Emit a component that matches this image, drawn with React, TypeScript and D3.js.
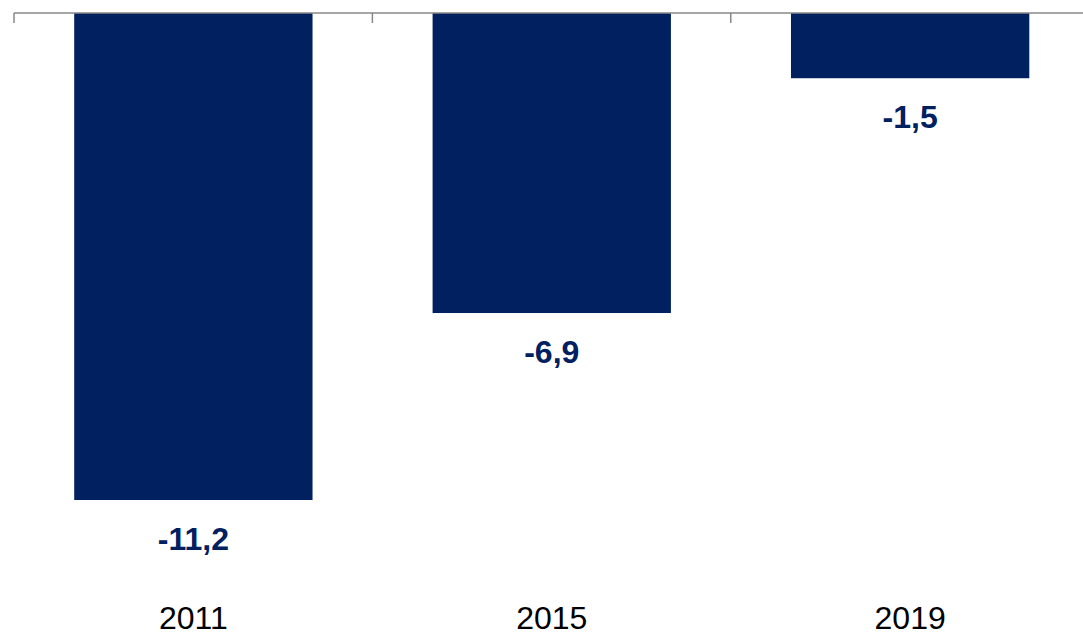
import * as d3 from 'd3';
import {useEffect, useRef} from 'react';

const categories = ['2011', '2015', '2019'];
const values = [-11.2, -6.9, -1.5];
const valueLabels = ['-11,2', '-6,9', '-1,5'];

const width = 1083;
const height = 635;

export default function App() {
	const svgRef = useRef<SVGSVGElement>(null);

	useEffect(() => {
		const svg = d3.select(svgRef.current).attr('width', width).attr('height', height);
		svg.selectAll('*').remove();

		const data = categories.map((c, i) => ({cat: c, value: values[i], label: valueLabels[i]}));

		const start = 14;
		const xScale = d3
			.scaleBand()
			.domain(categories)
			.range([start, start + 3 * 358.5])
			.paddingInner(0.335)
			.paddingOuter(0.168);

		const yScale = d3.scaleLinear().domain([-11.2, 0]).range([500, 13]);

		const navy = '#002060';

		svg
			.selectAll('.bar')
			.data(data)
			.join('rect')
			.attr('class', 'bar')
			.attr('x', (d) => xScale(d.cat)!)
			.attr('y', yScale(0))
			.attr('width', xScale.bandwidth())
			.attr('height', (d) => yScale(d.value) - yScale(0))
			.attr('fill', navy);

		// axis line at zero with ticks between categories
		const step = xScale.step();
		svg
			.append('line')
			.attr('x1', start)
			.attr('x2', width)
			.attr('y1', yScale(0))
			.attr('y2', yScale(0))
			.attr('stroke', '#888')
			.attr('stroke-width', 1.5);

		const ticks = d3.range(categories.length + 1).map((i) => start + i * step);
		svg
			.selectAll('.tick')
			.data(ticks)
			.join('line')
			.attr('class', 'tick')
			.attr('x1', (d) => d)
			.attr('x2', (d) => d)
			.attr('y1', yScale(0))
			.attr('y2', yScale(0) + 10)
			.attr('stroke', '#888')
			.attr('stroke-width', 1.5);

		svg
			.selectAll('.label')
			.data(data)
			.join('text')
			.attr('class', 'label')
			.attr('x', (d) => xScale(d.cat)! + xScale.bandwidth() / 2)
			.attr('y', (d) => yScale(d.value) + 50)
			.attr('text-anchor', 'middle')
			.style('font-family', 'Liberation Sans, Arial, sans-serif')
			.style('font-weight', 'bold')
			.style('font-size', '32px')
			.style('fill', navy)
			.text((d) => d.label);

		svg
			.selectAll('.cat')
			.data(data)
			.join('text')
			.attr('class', 'cat')
			.attr('x', (d) => xScale(d.cat)! + xScale.bandwidth() / 2)
			.attr('y', 629)
			.attr('text-anchor', 'middle')
			.style('font-family', 'Liberation Sans, Arial, sans-serif')
			.style('font-size', '32px')
			.style('fill', '#000')
			.text((d) => d.cat);
	}, []);

	return (
		<div style={{position: 'fixed', top: 0, left: 0, width, height, background: '#fff'}}>
			<svg ref={svgRef} style={{display: 'block'}} />
		</div>
	);
}
